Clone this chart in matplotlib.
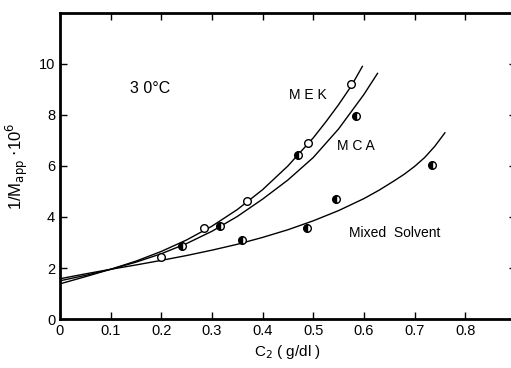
import matplotlib
matplotlib.use("Agg")
from matplotlib import pyplot as plt

# measured points
mek_x = [0.20, 0.285, 0.37, 0.49, 0.575]
mek_y = [2.45, 3.57, 4.62, 6.9, 9.2]
mca_x = [0.24, 0.315, 0.47, 0.585]
mca_y = [2.85, 3.63, 6.42, 7.95]
mix_x = [0.36, 0.487, 0.545, 0.735]
mix_y = [3.1, 3.57, 4.72, 6.05]

# fitted curves
mek_cx = [0.0, 0.05, 0.1, 0.15, 0.2, 0.25, 0.3, 0.35, 0.4, 0.45, 0.5,
          0.525, 0.55, 0.575, 0.597]
mek_cy = [1.38, 1.66, 1.95, 2.27, 2.65, 3.1, 3.64, 4.29, 5.07, 6.0, 7.1,
          7.73, 8.4, 9.13, 9.9]
mca_cx = [0.0, 0.05, 0.1, 0.15, 0.2, 0.25, 0.3, 0.35, 0.4, 0.45, 0.5,
          0.55, 0.6, 0.627]
mca_cy = [1.5, 1.71, 1.95, 2.23, 2.56, 2.96, 3.44, 4.02, 4.7, 5.45, 6.33,
          7.45, 8.8, 9.63]
mix_cx = [0.0, 0.05, 0.1, 0.15, 0.2, 0.25, 0.3, 0.35, 0.4, 0.45, 0.5,
          0.55, 0.6, 0.63, 0.66, 0.68, 0.7, 0.72, 0.74, 0.76]
mix_cy = [1.58, 1.77, 1.95, 2.12, 2.3, 2.49, 2.7, 2.93, 3.2, 3.5, 3.85,
          4.25, 4.72, 5.05, 5.42, 5.68, 5.98, 6.33, 6.77, 7.3]

xticks = [0, 0.1, 0.2, 0.3, 0.4, 0.5, 0.6, 0.7, 0.8]
xlabels = ["0", "0.1", "0.2", "0.3", "0.4", "0.5", "0.6", "0.7", "0.8"]
yticks = [0, 2, 4, 6, 8, 10]

plt.rcParams['font.family'] = ['Liberation Sans', 'DejaVu Sans']

fig = plt.figure(figsize=(5.11, 3.68), dpi=100)
ax = fig.add_axes([0.1174, 0.133, 0.892, 0.832])

for cx, cy in [(mek_cx, mek_cy), (mca_cx, mca_cy), (mix_cx, mix_cy)]:
    ax.plot(cx, cy, color="black", lw=1.0, solid_joinstyle="round")

ax.plot(mek_x, mek_y, "o", ms=5.5, mfc="white", mec="black", mew=1.0)
ax.plot(mca_x, mca_y, "o", ms=5.5, fillstyle="left", mfc="black",
        mfcalt="white", mec="black", mew=1.0)
ax.plot(mix_x, mix_y, "o", ms=5.5, fillstyle="left", mfc="black",
        mfcalt="white", mec="black", mew=1.0)

ax.text(0.178, 9.05, "3 0°C", fontsize=11.5, ha="center", va="center")
ax.text(0.49, 8.8, "M E K", fontsize=10, ha="center", va="center")
ax.text(0.585, 6.8, "M C A", fontsize=10, ha="center", va="center")
ax.text(0.66, 3.37, "Mixed  Solvent", fontsize=10, ha="center", va="center")

ax.set_xlim(0, 0.9)
ax.set_ylim(0, 12)
ax.set_xticks(xticks)
ax.set_xticklabels(xlabels)
ax.set_yticks(yticks)
ax.tick_params(direction="in", length=5, width=1, labelsize=10.5,
               top=True, right=True)
for s in ax.spines.values():
    s.set_linewidth(2)

ax.set_xlabel("C$_2$ ( g/dl )", fontsize=11, labelpad=4)
ax.set_ylabel(r"1/M$_{\rm app}$ $\cdot$10$^6$", fontsize=12, labelpad=6)

fig.savefig("out.png", dpi=100)
